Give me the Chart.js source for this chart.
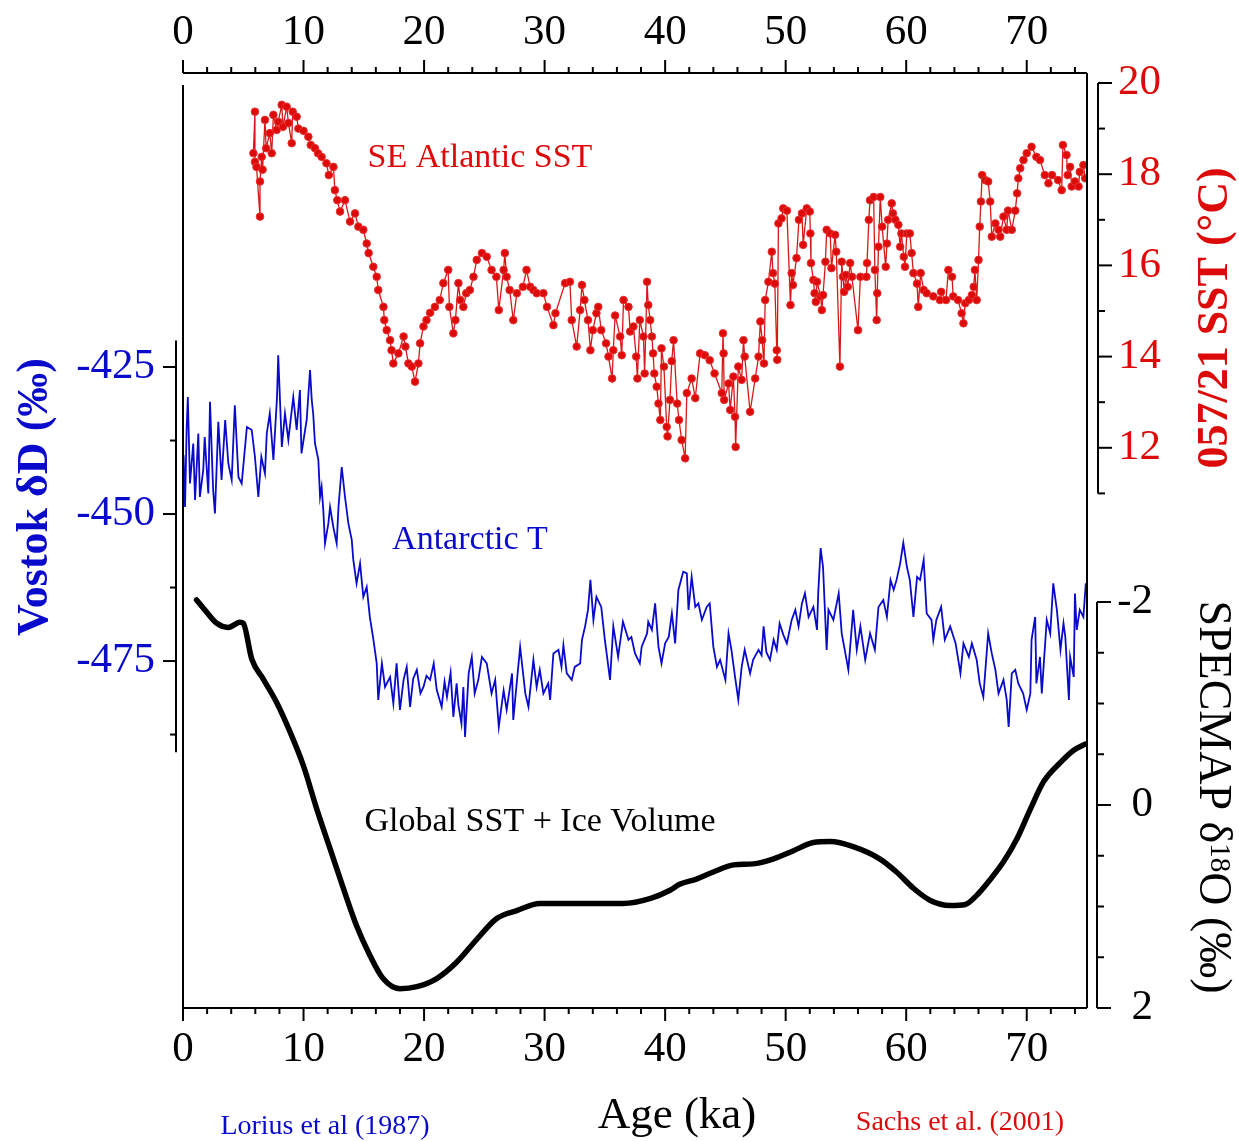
<!DOCTYPE html>
<html>
<head>
<meta charset="utf-8">
<script src="https://cdn.jsdelivr.net/npm/chart.js@4.4.1/dist/chart.umd.min.js"></script>
<style>
  html, body { margin: 0; padding: 0; background: #fff; }
  canvas { display: block; }
</style>
</head>
<body>
<canvas id="myChart" width="1239" height="1141"></canvas>
<script>
// SE Atlantic SST, core 057/21 (Sachs et al. 2001)
var sstAge = [5.84, 5.97, 5.97, 6.1, 6.39, 6.39, 6.53, 6.6, 6.8, 6.9, 7.2, 7.36, 7.5, 7.77, 7.9, 8.19, 8.3, 8.6, 8.75, 9.02,
  9.1, 9.43, 9.57, 10.0, 10.4, 10.6, 10.95, 11.2, 11.5, 11.9, 12.1, 12.48, 12.6, 12.8, 13.03, 13.44, 13.86, 14.27, 14.55, 14.96,
  15.24, 15.4, 15.79, 16.07, 16.2, 16.63, 16.7, 16.9, 17.18, 17.3, 17.45, 17.87, 18.3, 18.45, 18.7, 18.98, 19.25, 19.53, 19.67, 19.95,
  20.2, 20.5, 20.9, 21.3, 21.6, 22.0, 22.1, 22.43, 22.6, 22.85, 23.0, 23.26, 23.5, 23.8, 24.1, 24.37, 24.8, 25.2, 25.6, 26.0,
  26.2, 26.6, 26.7, 26.85, 27.1, 27.4, 27.7, 28.2, 28.5, 28.8, 29.07, 29.35, 29.9, 30.2, 30.73, 30.9, 31.7, 32.1, 32.25, 32.66,
  32.95, 33.1, 33.3, 33.6, 33.8, 34.0, 34.3, 34.45, 34.7, 35.1, 35.3, 35.6, 35.7, 35.85, 36.27, 36.4, 36.55, 36.96, 37.1, 37.37,
  37.6, 37.7, 37.9, 38.2, 38.3, 38.5, 38.6, 38.76, 38.9, 39.0, 39.1, 39.3, 39.45, 39.6, 39.7, 39.9, 40.13, 40.2, 40.4, 40.55,
  40.7, 41.0, 41.15, 41.37, 41.66, 41.8, 42.2, 42.5, 42.9, 43.3, 43.7, 44.1, 44.7, 44.8, 44.85, 44.9, 45.26, 45.4, 45.66, 45.8,
  45.85, 46.07, 46.35, 46.5, 46.6, 47.05, 47.47, 47.75, 47.9, 48.05, 48.2, 48.3, 48.57, 48.85, 48.95, 49.1, 49.26, 49.3, 49.4, 49.66,
  49.8, 50.1, 50.4, 50.5, 50.6, 50.9, 51.1, 51.35, 51.45, 51.75, 52.0, 52.05, 52.1, 52.3, 52.4, 52.5, 52.6, 52.9, 53.0, 53.1,
  53.3, 53.4, 53.7, 53.8, 54.1, 54.2, 54.5, 54.65, 54.75, 54.85, 55.0, 55.15, 55.35, 55.5, 56.0, 56.2, 56.7, 56.75, 56.9, 57.0,
  57.3, 57.4, 57.55, 57.6, 57.7, 57.85, 58.0, 58.3, 58.4, 58.5, 58.8, 58.9, 59.1, 59.35, 59.5, 59.6, 59.8, 59.9, 60.05, 60.3,
  60.45, 60.6, 60.9, 61.0, 61.2, 61.45, 61.7, 62.25, 62.8, 62.9, 63.3, 63.5, 63.8, 63.9, 64.3, 64.6, 64.75, 64.9, 65.2, 65.45,
  65.6, 65.7, 65.85, 66.0, 66.1, 66.2, 66.3, 66.55, 66.8, 66.97, 67.1, 67.4, 67.66, 67.8, 68.07, 68.34, 68.45, 68.76, 69.05, 69.2,
  69.3, 69.46, 69.73, 70.0, 70.4, 70.8, 71.1, 71.5, 71.8, 72.1, 72.6, 72.9, 73.0, 73.3, 73.4, 73.6, 73.73, 74.0, 74.3, 74.4,
  74.7, 74.85];
var sstVal = [18.46, 19.37, 18.27, 18.16, 17.07, 17.84, 18.38, 18.1, 19.19, 18.57, 18.9, 18.46, 19.3, 18.97, 19.15, 19.52, 19.04, 19.48, 19.12, 18.68,
  19.37, 19.26, 19.0, 18.95, 18.82, 18.64, 18.57, 18.46, 18.38, 18.24, 17.98, 18.16, 17.65, 17.43, 17.18, 17.43, 16.96, 17.14, 16.85, 16.78,
  16.48, 16.27, 15.97, 15.75, 15.46, 15.09, 14.8, 14.58, 14.36, 14.14, 13.85, 14.07, 14.44, 14.22, 13.85, 13.78, 13.45, 13.85, 14.29, 14.66,
  14.8, 14.96, 15.09, 15.24, 15.61, 15.9, 15.09, 14.51, 14.8, 15.61, 15.24, 15.09, 15.39, 15.46, 15.75, 16.12, 16.27, 16.19, 15.9, 15.75,
  15.02, 15.9, 16.27, 15.75, 15.46, 14.8, 15.39, 15.53, 15.9, 15.53, 15.46, 15.39, 15.39, 15.09, 14.69, 14.95, 15.61, 15.64, 14.8, 14.22,
  15.02, 15.57, 15.24, 14.8, 14.14, 14.58, 14.95, 15.09, 14.58, 14.29, 14.0, 13.52, 14.14, 14.9, 14.44, 14.03, 15.24, 15.09, 14.55, 14.66,
  14.0, 13.52, 14.8, 14.44, 13.63, 15.64, 15.13, 14.8, 14.44, 14.07, 13.63, 13.34, 12.97, 12.61, 14.18, 13.78, 12.46, 12.25, 13.05, 13.9,
  14.36, 12.97, 12.61, 12.17, 11.77, 13.2, 13.52, 13.09, 14.07, 14.03, 13.92, 13.63, 13.2, 14.51, 14.07, 13.05, 13.41, 12.83, 13.56, 12.68,
  12.02, 13.78, 13.49, 14.36, 14.0, 12.79, 13.52, 14.0, 14.77, 14.36, 13.85, 15.24, 15.64, 16.3, 15.83, 15.6, 14.14, 13.93, 16.92, 17.03,
  17.25, 17.2, 15.13, 15.83, 15.57, 16.16, 17.0, 17.14, 16.45, 17.25, 17.18, 16.7, 16.05, 15.68, 15.39, 15.2, 15.64, 15.32, 15.02, 15.35,
  16.08, 16.78, 16.7, 15.94, 16.67, 16.3, 13.78, 16.08, 15.75, 15.42, 15.79, 15.53, 16.05, 15.75, 14.58, 15.75, 15.75, 16.05, 17.0, 17.43,
  17.5, 15.9, 14.8, 15.39, 16.41, 17.5, 16.85, 15.97, 16.48, 17.0, 17.36, 17.14, 17.0, 16.89, 16.41, 16.7, 16.19, 15.97, 16.7, 16.7,
  16.27, 15.83, 15.6, 15.09, 15.83, 15.46, 15.39, 15.32, 15.24, 15.42, 15.24, 15.9, 15.75, 15.32, 15.24, 14.95, 14.73, 15.17, 15.24, 15.35,
  15.53, 15.9, 15.24, 16.12, 16.85, 17.4, 17.98, 17.87, 17.84, 17.4, 16.63, 16.92, 16.78, 16.63, 17.07, 16.78, 17.2, 16.78, 17.2, 17.58,
  17.91, 18.13, 18.31, 18.46, 18.6, 18.38, 18.31, 17.98, 17.8, 17.98, 17.87, 17.65, 18.64, 18.42, 17.98, 18.16, 17.73, 17.84, 17.73, 18.05,
  18.2, 17.91];

// Vostok deltaD, Antarctic T (Lorius et al. 1987)
var dDAge = [0.05, 0.17, 0.3, 0.4, 0.58, 0.85, 1.0, 1.27, 1.4, 1.68, 1.8, 2.1, 2.24, 2.5, 2.65, 2.93, 3.2, 3.5, 3.76, 4.04,
  4.3, 4.6, 4.87, 5.3, 5.7, 5.97, 6.25, 6.5, 6.8, 6.95, 7.2, 7.5, 7.8, 7.9, 8.2, 8.46, 8.74, 9.15, 9.43, 9.7,
  9.83, 10.26, 10.54, 10.68, 10.8, 10.95, 11.23, 11.37, 11.5, 11.64, 11.78, 12.06, 12.2, 12.47, 12.75, 12.9, 13.17, 13.44, 13.72, 14.0,
  14.13, 14.4, 14.69, 14.96, 15.24, 15.5, 15.8, 16.07, 16.2, 16.5, 16.76, 17.18, 17.45, 17.72, 18.0, 18.3, 18.56, 18.84, 19.1, 19.4,
  19.7, 19.95, 20.2, 20.5, 20.8, 21.05, 21.46, 21.7, 21.9, 22.2, 22.43, 22.7, 22.85, 23.1, 23.26, 23.4, 23.7, 23.96, 24.2, 24.5,
  24.8, 25.2, 25.6, 25.9, 26.2, 26.6, 26.85, 27.3, 27.4, 27.97, 28.4, 28.66, 29.07, 29.34, 29.6, 29.9, 30.3, 30.46, 30.73, 31.15,
  31.4, 31.56, 31.84, 32.25, 32.5, 32.95, 33.1, 33.36, 33.6, 33.8, 34.05, 34.3, 34.7, 35.0, 35.43, 35.7, 36.1, 36.5, 36.96, 37.2,
  37.5, 37.9, 38.05, 38.5, 38.6, 38.9, 39.17, 39.45, 39.7, 40.0, 40.3, 40.56, 40.83, 41.1, 41.5, 41.8, 41.94, 42.2, 42.5, 42.76,
  43.05, 43.45, 43.7, 44.0, 44.3, 44.56, 45.0, 45.26, 45.5, 45.8, 46.07, 46.35, 46.6, 47.05, 47.3, 47.75, 48.0, 48.17, 48.4, 48.7,
  49.0, 49.26, 49.5, 49.8, 50.1, 50.5, 50.8, 51.07, 51.35, 51.6, 51.9, 52.3, 52.6, 52.7, 52.9, 53.1, 53.4, 53.55, 53.96, 54.4,
  54.65, 54.9, 55.2, 55.6, 55.9, 56.2, 56.6, 57.0, 57.4, 57.7, 58.1, 58.4, 58.7, 58.96, 59.2, 59.5, 59.76, 60.05, 60.3, 60.6,
  60.9, 61.15, 61.45, 61.7, 62.1, 62.25, 62.5, 62.9, 63.2, 63.65, 64.1, 64.5, 64.75, 65.2, 65.45, 65.85, 66.1, 66.4, 66.8, 67.1,
  67.4, 67.66, 68.07, 68.34, 68.5, 68.76, 69.05, 69.3, 69.7, 70.0, 70.3, 70.4, 70.7, 70.8, 71.1, 71.25, 71.66, 71.95, 72.2, 72.5,
  72.8, 73.05, 73.2, 73.5, 73.6, 73.9, 74.0, 74.15, 74.4, 74.7, 74.9];
var dDVal = [-440, -448.8, -435.7, -430.1, -444.8, -438, -447.6, -436.3, -447.1, -442.5, -436.9, -446.5, -430.9, -445.9, -449.9, -434.3, -444.2, -434, -441.4, -444.2,
  -431.5, -443.7, -444.8, -435.2, -435.7, -440.3, -447.1, -440.3, -443.1, -436.3, -432.9, -440.8, -430.1, -423, -438.6, -432.9, -437.4, -430.1, -435.7, -428.9,
  -439.7, -434, -425.5, -430.6, -432.9, -438, -440.8, -447.1, -445.4, -449.3, -455, -451.6, -448.8, -452.2, -455, -448.8, -442, -447.1, -451.6, -454.4,
  -457.8, -461.8, -458.4, -464.1, -462.4, -467.5, -471.4, -475.4, -481.6, -475.4, -479.4, -477.7, -482.2, -475.4, -483.3, -478.2, -476, -482.8, -478, -476.5,
  -480.5, -479.4, -477.5, -478.2, -475.4, -479.9, -482.8, -478.5, -481.1, -477, -484.5, -478.8, -482.5, -485.6, -479.4, -487.9, -477.1, -474.3, -480.5, -478.2,
  -474.3, -475.4, -480.5, -478.2, -486.2, -480, -483.3, -477.1, -485, -472.6, -480.5, -482.8, -474.8, -479.4, -476.5, -480.5, -478.8, -481.6, -473.7, -473.1,
  -476, -472.3, -477.1, -478.2, -476, -475.4, -471.4, -469.1, -466.3, -461.2, -468, -464.1, -465.8, -471.4, -478.2, -469.1, -474.3, -468.3, -471.4, -470.9,
  -473.7, -475.4, -472.6, -470.3, -468.3, -469.7, -465.2, -472.6, -475.4, -472, -470.9, -466.9, -472, -462.9, -459.8, -460.1, -466.3, -460.7, -465.8, -465.2,
  -468, -465.8, -465.2, -472.6, -476, -474.8, -478.2, -470.3, -473.1, -477.7, -481.6, -476, -473.1, -477.1, -474.8, -473.1, -474, -469.1, -473.5, -474.8,
  -471.4, -473.1, -468.6, -470.5, -472, -468, -466.3, -469.1, -465.2, -463.5, -467.5, -465.8, -469.7, -463.5, -455.8, -459, -473.1, -466.3, -468, -463.5,
  -470.3, -473.1, -476.5, -466.3, -473.1, -469.1, -474.8, -470.3, -473.1, -465.8, -464.6, -467.5, -461.2, -462.9, -461.2, -458.4, -454.9, -458.9, -461.2, -467.5,
  -460.7, -461.2, -457.8, -466.9, -468, -471.4, -468, -465.8, -471.4, -469.1, -472, -477.1, -472, -474.3, -472, -474.8, -478.8, -481.1, -470.3, -473.7,
  -476.5, -480.5, -478.2, -481.6, -486.2, -477.1, -476.5, -478.8, -480.5, -483.3, -480.5, -471.4, -467.5, -478.8, -474.3, -480.5, -468, -470.3, -461.8, -466.3,
  -473.1, -468.6, -470.9, -481.6, -474.3, -477.7, -463.5, -469.7, -466.3, -467.5, -461.8];

// SPECMAP d18O stack, global SST + ice volume
var specAge = [1.13, 1.96, 2.8, 3.76, 4.73, 5.0, 5.7, 6.66, 7.77, 8.88, 9.98, 11.1, 12.2, 13.3, 14.4, 15.5, 16.6, 18.0, 19.4, 21.05,
  22.7, 24.4, 26.0, 27.7, 29.6, 32.1, 36.5, 38.8, 40.4, 41.2, 42.6, 44.0, 45.7, 47.3, 49.0, 50.65, 52.3, 53.7, 55.6, 57.8,
  59.2, 60.6, 62.0, 63.65, 64.9, 65.85, 67.0, 68.07, 69.2, 70.3, 71.4, 72.8, 73.9, 74.85];
var specVal = [-2.02, -1.9, -1.79, -1.75, -1.8, -1.79, -1.44, -1.24, -1.01, -0.72, -0.39, 0.04, 0.43, 0.82, 1.19, 1.48, 1.71, 1.81, 1.79, 1.71,
  1.55, 1.32, 1.12, 1.04, 0.97, 0.97, 0.97, 0.92, 0.84, 0.78, 0.73, 0.66, 0.59, 0.58, 0.53, 0.45, 0.37, 0.36, 0.41, 0.53,
  0.66, 0.82, 0.94, 0.99, 0.98, 0.89, 0.73, 0.56, 0.33, 0.04, -0.23, -0.42, -0.54, -0.6];

// tick labels
var ageTicks = [0, 10, 20, 30, 40, 50, 60, 70];
var sstTicks = [20, 18, 16, 14, 12];
var dDTicks = [-425, -450, -475];
var specTicks = [-2, 0, 2];

var RED = '#dd0a0a';
var BLUE = '#0a0acc';
var SERIF = '"Liberation Serif", "DejaVu Serif", serif';

function pairs(xs, ys) {
    var out = [];
    for (var i = 0; i < xs.length; i++) out.push({x: xs[i], y: ys[i]});
    return out;
}

var handAxes = {
    id: 'handAxes',
    afterDraw: function(chart) {
        var ctx = chart.ctx;
        var xs = chart.scales.x;
        var yR = chart.scales.ySst, yB = chart.scales.yDD, yK = chart.scales.ySpec;
        var top = chart.chartArea.top, bottom = chart.chartArea.bottom;
        var x0 = xs.getPixelForValue(0), x75 = xs.getPixelForValue(75);

        function line(a, b, c, d) {
            ctx.beginPath(); ctx.moveTo(a, b); ctx.lineTo(c, d); ctx.stroke();
        }
        function text(t, x, y, font, color, align) {
            ctx.font = font; ctx.fillStyle = color;
            ctx.textAlign = align || 'center'; ctx.textBaseline = 'middle';
            ctx.fillText(t, x, y);
        }

        ctx.save();
        ctx.strokeStyle = '#000';
        ctx.lineWidth = 2;

        // age axes, top and bottom
        line(x0, top, x75, top);
        line(x0, bottom, x75, bottom);
        for (var a = 0; a <= 74; a += 2) {
            var px = xs.getPixelForValue(a);
            var len = a % 10 === 0 ? 13 : 6;
            line(px, top, px, top - len);
            line(px, bottom, px, bottom + len);
        }
        ageTicks.forEach(function(v) {
            var px = xs.getPixelForValue(v);
            text(String(v), px, 33, '43px ' + SERIF, '#000');
            text(String(v), px, 1050, '43px ' + SERIF, '#000');
        });
        // frame
        line(x0, top + 12, x0, bottom);
        line(x75, top, x75, bottom);

        // Vostok axis (left, blue values, black line)
        var bx = x0 - 7;
        line(bx, yB.getPixelForValue(-420.5), bx, yB.getPixelForValue(-490.5));
        for (var v = -425; v >= -487.5; v -= 12.5) {
            var py = yB.getPixelForValue(v);
            line(bx, py, bx - (v % 25 === 0 ? 13 : 6), py);
        }
        dDTicks.forEach(function(v) {
            text(String(v), 155, yB.getPixelForValue(v), '43px ' + SERIF, BLUE, 'right');
        });

        // SST axis (right, red)
        var rx = x75 + 11;
        line(rx, yR.getPixelForValue(20), rx, yR.getPixelForValue(11));
        for (var s = 20; s >= 11; s -= 1) {
            var ps = yR.getPixelForValue(s);
            line(rx, ps, rx + (s % 2 === 0 ? 14 : 7), ps);
        }
        sstTicks.forEach(function(v) {
            text(String(v), 1118, yR.getPixelForValue(v), '43px ' + SERIF, RED, 'left');
        });

        // SPECMAP axis (right, black, reversed)
        var kx = x75 + 10;
        line(kx, yK.getPixelForValue(-2), kx, yK.getPixelForValue(2));
        for (var k = -2; k <= 2; k += 0.5) {
            var pk = yK.getPixelForValue(k);
            line(kx, pk, kx + (k % 2 === 0 ? 14 : 7), pk);
        }
        specTicks.forEach(function(v) {
            text(String(v), 1153, yK.getPixelForValue(v), '43px ' + SERIF, '#000', 'right');
        });

        // in-plot labels
        text('SE Atlantic SST', 480, 158, '34px ' + SERIF, RED);
        text('Antarctic T', 470, 540, '34px ' + SERIF, BLUE);
        text('Global SST + Ice Volume', 540, 822, '34px ' + SERIF, '#000');

        // bottom texts
        text('Age (ka)', 677, 1116, '45px ' + SERIF, '#000');
        text('Lorius et al (1987)', 325, 1127, '28px ' + SERIF, BLUE);
        text('Sachs et al. (2001)', 960, 1123, '28px ' + SERIF, RED);

        // axis titles
        ctx.save();
        ctx.translate(36, 497);
        ctx.rotate(-Math.PI / 2);
        text('Vostok \u03b4D (\u2030)', 0, 0, 'bold 44px ' + SERIF, BLUE);
        ctx.restore();

        ctx.save();
        ctx.translate(1216, 318);
        ctx.rotate(-Math.PI / 2);
        text('057/21 SST (\u00b0C)', 0, 0, 'bold 44px ' + SERIF, RED);
        ctx.restore();

        ctx.save();
        ctx.translate(1212, 797);
        ctx.rotate(Math.PI / 2);
        var big = '46px ' + SERIF, small = '29px ' + SERIF;
        ctx.font = big; var w1 = ctx.measureText('SPECMAP \u03b4').width;
        ctx.font = small; var w2 = ctx.measureText('18').width;
        ctx.font = big; var w3 = ctx.measureText('O (\u2030)').width;
        var sx = -(w1 + w2 + w3) / 2;
        text('SPECMAP \u03b4', sx, 0, big, '#000', 'left');
        text('18', sx + w1, -7, small, '#000', 'left');
        text('O (\u2030)', sx + w1 + w2, 0, big, '#000', 'left');
        ctx.restore();

        ctx.restore();
    }
};

var ctx = document.getElementById('myChart').getContext('2d');
var myChart = new Chart(ctx, {
    type: 'scatter',
    data: {
        datasets: [{
            label: 'Global SST + Ice Volume',
            data: pairs(specAge, specVal),
            yAxisID: 'ySpec',
            showLine: true,
            borderColor: '#000',
            borderWidth: 5.5,
            borderCapStyle: 'round',
            borderJoinStyle: 'round',
            cubicInterpolationMode: 'monotone',
            pointRadius: 0
        }, {
            label: 'Antarctic T',
            data: pairs(dDAge, dDVal),
            yAxisID: 'yDD',
            showLine: true,
            borderColor: BLUE,
            borderWidth: 1.8,
            pointRadius: 0
        }, {
            label: 'SE Atlantic SST',
            data: pairs(sstAge, sstVal),
            yAxisID: 'ySst',
            showLine: true,
            borderColor: '#d81818',
            borderWidth: 1.3,
            pointRadius: 3.8,
            pointBackgroundColor: RED,
            pointBorderColor: '#e83030',
            pointBorderWidth: 1
        }]
    },
    options: {
        responsive: false,
        animation: false,
        devicePixelRatio: 1,
        layout: { padding: { left: 183, right: 152, top: 73, bottom: 133 } },
        plugins: {
            legend: { display: false },
            tooltip: { enabled: false }
        },
        scales: {
            x: { type: 'linear', min: 0, max: 75, display: false },
            ySst: { type: 'linear', min: -0.285, max: 20.219, display: false },
            yDD: { type: 'linear', min: -534.0, max: -375.0, display: false },
            ySpec: { type: 'linear', min: -7.212, max: 2.0, reverse: true, display: false }
        }
    },
    plugins: [handAxes]
});
</script>
</body>
</html>
